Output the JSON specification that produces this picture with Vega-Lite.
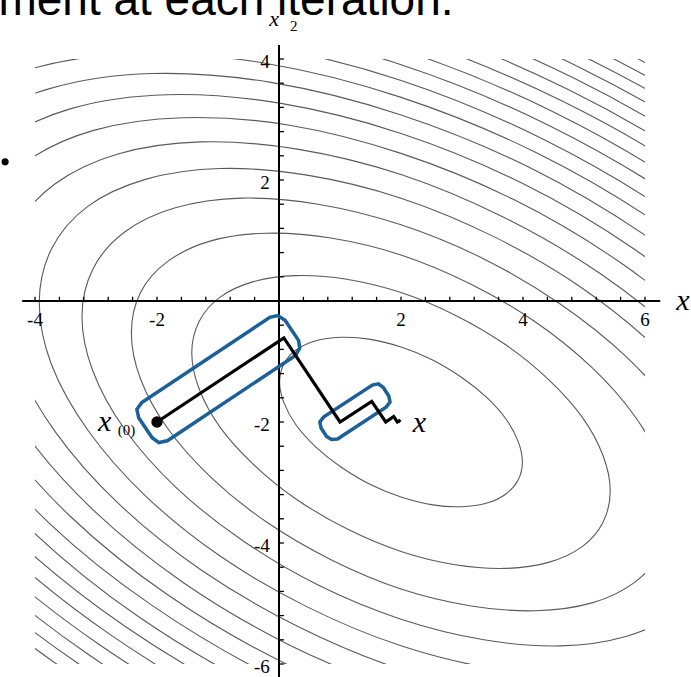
{
"$schema": "https://vega.github.io/schema/vega-lite/v6.json",
"width": 610, "height": 605, "autosize": "none",
"padding": {"left": 35, "top": 59, "right": 46, "bottom": 13},
"background": "white",
"config": {"view": {"stroke": null}, "axis": {"disable": true}},
"datasets": {
"contours": [
{"c":0,"i":0,"x":3.92,"y":-2.96},{"c":0,"i":1,"x":3.99,"y":-2.66},{"c":0,"i":2,"x":3.92,"y":-2.32},{"c":0,"i":3,"x":3.72,"y":-1.95},{"c":0,"i":4,"x":3.40,"y":-1.59},{"c":0,"i":5,"x":2.99,"y":-1.26},{"c":0,"i":6,"x":2.51,"y":-0.97},{"c":0,"i":7,"x":2.00,"y":-0.76},{"c":0,"i":8,"x":1.48,"y":-0.63},{"c":0,"i":9,"x":1.01,"y":-0.60},{"c":0,"i":10,"x":0.59,"y":-0.66},{"c":0,"i":11,"x":0.28,"y":-0.81},{"c":0,"i":12,"x":0.08,"y":-1.04},{"c":0,"i":13,"x":0.01,"y":-1.34},{"c":0,"i":14,"x":0.08,"y":-1.68},{"c":0,"i":15,"x":0.28,"y":-2.05},{"c":0,"i":16,"x":0.60,"y":-2.41},{"c":0,"i":17,"x":1.01,"y":-2.74},{"c":0,"i":18,"x":1.49,"y":-3.03},{"c":0,"i":19,"x":2.00,"y":-3.24},{"c":0,"i":20,"x":2.52,"y":-3.37},{"c":0,"i":21,"x":2.99,"y":-3.40},{"c":0,"i":22,"x":3.41,"y":-3.34},{"c":0,"i":23,"x":3.72,"y":-3.19},
{"c":1,"i":0,"x":5.31,"y":-3.66},{"c":1,"i":1,"x":5.43,"y":-3.14},{"c":1,"i":2,"x":5.31,"y":-2.55},{"c":1,"i":3,"x":4.97,"y":-1.92},{"c":1,"i":4,"x":4.42,"y":-1.30},{"c":1,"i":5,"x":3.71,"y":-0.72},{"c":1,"i":6,"x":2.88,"y":-0.23},{"c":1,"i":7,"x":2.00,"y":0.14},{"c":1,"i":8,"x":1.11,"y":0.36},{"c":1,"i":9,"x":0.28,"y":0.42},{"c":1,"i":10,"x":-0.42,"y":0.32},{"c":1,"i":11,"x":-0.97,"y":0.06},{"c":1,"i":12,"x":-1.31,"y":-0.34},{"c":1,"i":13,"x":-1.43,"y":-0.86},{"c":1,"i":14,"x":-1.31,"y":-1.45},{"c":1,"i":15,"x":-0.97,"y":-2.08},{"c":1,"i":16,"x":-0.42,"y":-2.70},{"c":1,"i":17,"x":0.29,"y":-3.28},{"c":1,"i":18,"x":1.12,"y":-3.77},{"c":1,"i":19,"x":2.00,"y":-4.14},{"c":1,"i":20,"x":2.89,"y":-4.36},{"c":1,"i":21,"x":3.72,"y":-4.42},{"c":1,"i":22,"x":4.42,"y":-4.32},{"c":1,"i":23,"x":4.97,"y":-4.06},
{"c":2,"i":0,"x":6.27,"y":-4.14},{"c":2,"i":1,"x":6.42,"y":-3.47},{"c":2,"i":2,"x":6.27,"y":-2.71},{"c":2,"i":3,"x":5.83,"y":-1.90},{"c":2,"i":4,"x":5.12,"y":-1.09},{"c":2,"i":5,"x":4.21,"y":-0.35},{"c":2,"i":6,"x":3.14,"y":0.28},{"c":2,"i":7,"x":2.00,"y":0.76},{"c":2,"i":8,"x":0.85,"y":1.04},{"c":2,"i":9,"x":-0.21,"y":1.12},{"c":2,"i":10,"x":-1.13,"y":0.99},{"c":2,"i":11,"x":-1.83,"y":0.65},{"c":2,"i":12,"x":-2.27,"y":0.14},{"c":2,"i":13,"x":-2.42,"y":-0.53},{"c":2,"i":14,"x":-2.27,"y":-1.29},{"c":2,"i":15,"x":-1.83,"y":-2.10},{"c":2,"i":16,"x":-1.12,"y":-2.91},{"c":2,"i":17,"x":-0.21,"y":-3.65},{"c":2,"i":18,"x":0.86,"y":-4.28},{"c":2,"i":19,"x":2.00,"y":-4.76},{"c":2,"i":20,"x":3.15,"y":-5.04},{"c":2,"i":21,"x":4.21,"y":-5.12},{"c":2,"i":22,"x":5.13,"y":-4.99},{"c":2,"i":23,"x":5.83,"y":-4.65},
{"c":3,"i":0,"x":7.05,"y":-4.53},{"c":3,"i":1,"x":7.23,"y":-3.74},{"c":3,"i":2,"x":7.05,"y":-2.84},{"c":3,"i":3,"x":6.53,"y":-1.88},{"c":3,"i":4,"x":5.69,"y":-0.92},{"c":3,"i":5,"x":4.61,"y":-0.05},{"c":3,"i":6,"x":3.35,"y":0.70},{"c":3,"i":7,"x":2.00,"y":1.26},{"c":3,"i":8,"x":0.64,"y":1.60},{"c":3,"i":9,"x":-0.62,"y":1.70},{"c":3,"i":10,"x":-1.70,"y":1.54},{"c":3,"i":11,"x":-2.53,"y":1.14},{"c":3,"i":12,"x":-3.05,"y":0.53},{"c":3,"i":13,"x":-3.23,"y":-0.26},{"c":3,"i":14,"x":-3.05,"y":-1.16},{"c":3,"i":15,"x":-2.53,"y":-2.12},{"c":3,"i":16,"x":-1.69,"y":-3.08},{"c":3,"i":17,"x":-0.61,"y":-3.95},{"c":3,"i":18,"x":0.65,"y":-4.70},{"c":3,"i":19,"x":2.00,"y":-5.26},{"c":3,"i":20,"x":3.36,"y":-5.60},{"c":3,"i":21,"x":4.62,"y":-5.70},{"c":3,"i":22,"x":5.70,"y":-5.54},{"c":3,"i":23,"x":6.53,"y":-5.14},
{"c":4,"i":0,"x":7.73,"y":-4.86},{"c":4,"i":1,"x":7.93,"y":-3.97},{"c":4,"i":2,"x":7.73,"y":-2.95},{"c":4,"i":3,"x":7.13,"y":-1.86},{"c":4,"i":4,"x":6.19,"y":-0.78},{"c":4,"i":5,"x":4.96,"y":0.22},{"c":4,"i":6,"x":3.53,"y":1.06},{"c":4,"i":7,"x":2.00,"y":1.70},{"c":4,"i":8,"x":0.46,"y":2.08},{"c":4,"i":9,"x":-0.97,"y":2.19},{"c":4,"i":10,"x":-2.19,"y":2.01},{"c":4,"i":11,"x":-3.14,"y":1.56},{"c":4,"i":12,"x":-3.73,"y":0.86},{"c":4,"i":13,"x":-3.93,"y":-0.03},{"c":4,"i":14,"x":-3.73,"y":-1.05},{"c":4,"i":15,"x":-3.13,"y":-2.14},{"c":4,"i":16,"x":-2.19,"y":-3.22},{"c":4,"i":17,"x":-0.96,"y":-4.22},{"c":4,"i":18,"x":0.47,"y":-5.06},{"c":4,"i":19,"x":2.00,"y":-5.70},{"c":4,"i":20,"x":3.54,"y":-6.08},{"c":4,"i":21,"x":4.97,"y":-6.19},{"c":4,"i":22,"x":6.19,"y":-6.01},{"c":4,"i":23,"x":7.14,"y":-5.56},
{"c":5,"i":0,"x":8.33,"y":-5.17},{"c":5,"i":1,"x":8.55,"y":-4.18},{"c":5,"i":2,"x":8.33,"y":-3.05},{"c":5,"i":3,"x":7.67,"y":-1.85},{"c":5,"i":4,"x":6.63,"y":-0.65},{"c":5,"i":5,"x":5.27,"y":0.45},{"c":5,"i":6,"x":3.69,"y":1.38},{"c":5,"i":7,"x":2.00,"y":2.09},{"c":5,"i":8,"x":0.30,"y":2.51},{"c":5,"i":9,"x":-1.28,"y":2.63},{"c":5,"i":10,"x":-2.64,"y":2.43},{"c":5,"i":11,"x":-3.68,"y":1.93},{"c":5,"i":12,"x":-4.33,"y":1.17},{"c":5,"i":13,"x":-4.55,"y":0.18},{"c":5,"i":14,"x":-4.33,"y":-0.95},{"c":5,"i":15,"x":-3.67,"y":-2.16},{"c":5,"i":16,"x":-2.63,"y":-3.35},{"c":5,"i":17,"x":-1.27,"y":-4.45},{"c":5,"i":18,"x":0.31,"y":-5.38},{"c":5,"i":19,"x":2.00,"y":-6.09},{"c":5,"i":20,"x":3.70,"y":-6.51},{"c":5,"i":21,"x":5.28,"y":-6.63},{"c":5,"i":22,"x":6.64,"y":-6.43},{"c":5,"i":23,"x":7.68,"y":-5.93},
{"c":6,"i":0,"x":8.88,"y":-5.44},{"c":6,"i":1,"x":9.12,"y":-4.37},{"c":6,"i":2,"x":8.88,"y":-3.14},{"c":6,"i":3,"x":8.17,"y":-1.83},{"c":6,"i":4,"x":7.03,"y":-0.53},{"c":6,"i":5,"x":5.56,"y":0.66},{"c":6,"i":6,"x":3.84,"y":1.68},{"c":6,"i":7,"x":2.00,"y":2.44},{"c":6,"i":8,"x":0.15,"y":2.91},{"c":6,"i":9,"x":-1.57,"y":3.03},{"c":6,"i":10,"x":-3.04,"y":2.82},{"c":6,"i":11,"x":-4.17,"y":2.28},{"c":6,"i":12,"x":-4.88,"y":1.44},{"c":6,"i":13,"x":-5.12,"y":0.37},{"c":6,"i":14,"x":-4.88,"y":-0.86},{"c":6,"i":15,"x":-4.17,"y":-2.17},{"c":6,"i":16,"x":-3.03,"y":-3.47},{"c":6,"i":17,"x":-1.56,"y":-4.66},{"c":6,"i":18,"x":0.16,"y":-5.68},{"c":6,"i":19,"x":2.00,"y":-6.44},{"c":6,"i":20,"x":3.85,"y":-6.91},{"c":6,"i":21,"x":5.57,"y":-7.03},{"c":6,"i":22,"x":7.04,"y":-6.82},{"c":6,"i":23,"x":8.17,"y":-6.28},
{"c":7,"i":0,"x":9.39,"y":-5.70},{"c":7,"i":1,"x":9.65,"y":-4.55},{"c":7,"i":2,"x":9.39,"y":-3.22},{"c":7,"i":3,"x":8.62,"y":-1.82},{"c":7,"i":4,"x":7.41,"y":-0.43},{"c":7,"i":5,"x":5.82,"y":0.86},{"c":7,"i":6,"x":3.98,"y":1.95},{"c":7,"i":7,"x":2.00,"y":2.77},{"c":7,"i":8,"x":0.01,"y":3.27},{"c":7,"i":9,"x":-1.83,"y":3.41},{"c":7,"i":10,"x":-3.41,"y":3.18},{"c":7,"i":11,"x":-4.63,"y":2.59},{"c":7,"i":12,"x":-5.39,"y":1.70},{"c":7,"i":13,"x":-5.65,"y":0.55},{"c":7,"i":14,"x":-5.39,"y":-0.78},{"c":7,"i":15,"x":-4.62,"y":-2.18},{"c":7,"i":16,"x":-3.41,"y":-3.57},{"c":7,"i":17,"x":-1.82,"y":-4.86},{"c":7,"i":18,"x":0.02,"y":-5.95},{"c":7,"i":19,"x":2.00,"y":-6.77},{"c":7,"i":20,"x":3.99,"y":-7.27},{"c":7,"i":21,"x":5.83,"y":-7.41},{"c":7,"i":22,"x":7.41,"y":-7.18},{"c":7,"i":23,"x":8.63,"y":-6.59},
{"c":8,"i":0,"x":9.87,"y":-5.93},{"c":8,"i":1,"x":10.14,"y":-4.71},{"c":8,"i":2,"x":9.87,"y":-3.30},{"c":8,"i":3,"x":9.05,"y":-1.81},{"c":8,"i":4,"x":7.76,"y":-0.32},{"c":8,"i":5,"x":6.07,"y":1.04},{"c":8,"i":6,"x":4.10,"y":2.21},{"c":8,"i":7,"x":1.99,"y":3.08},{"c":8,"i":8,"x":-0.11,"y":3.61},{"c":8,"i":9,"x":-2.08,"y":3.76},{"c":8,"i":10,"x":-3.76,"y":3.51},{"c":8,"i":11,"x":-5.06,"y":2.89},{"c":8,"i":12,"x":-5.87,"y":1.93},{"c":8,"i":13,"x":-6.14,"y":0.71},{"c":8,"i":14,"x":-5.87,"y":-0.70},{"c":8,"i":15,"x":-5.05,"y":-2.19},{"c":8,"i":16,"x":-3.76,"y":-3.68},{"c":8,"i":17,"x":-2.07,"y":-5.04},{"c":8,"i":18,"x":-0.10,"y":-6.21},{"c":8,"i":19,"x":2.01,"y":-7.08},{"c":8,"i":20,"x":4.11,"y":-7.61},{"c":8,"i":21,"x":6.08,"y":-7.76},{"c":8,"i":22,"x":7.76,"y":-7.51},{"c":8,"i":23,"x":9.06,"y":-6.89},
{"c":9,"i":0,"x":10.32,"y":-6.16},{"c":9,"i":1,"x":10.61,"y":-4.87},{"c":9,"i":2,"x":10.32,"y":-3.38},{"c":9,"i":3,"x":9.45,"y":-1.80},{"c":9,"i":4,"x":8.08,"y":-0.23},{"c":9,"i":5,"x":6.30,"y":1.22},{"c":9,"i":6,"x":4.22,"y":2.45},{"c":9,"i":7,"x":1.99,"y":3.37},{"c":9,"i":8,"x":-0.23,"y":3.93},{"c":9,"i":9,"x":-2.31,"y":4.09},{"c":9,"i":10,"x":-4.09,"y":3.83},{"c":9,"i":11,"x":-5.46,"y":3.17},{"c":9,"i":12,"x":-6.32,"y":2.16},{"c":9,"i":13,"x":-6.61,"y":0.87},{"c":9,"i":14,"x":-6.32,"y":-0.62},{"c":9,"i":15,"x":-5.45,"y":-2.20},{"c":9,"i":16,"x":-4.08,"y":-3.77},{"c":9,"i":17,"x":-2.30,"y":-5.22},{"c":9,"i":18,"x":-0.22,"y":-6.45},{"c":9,"i":19,"x":2.01,"y":-7.37},{"c":9,"i":20,"x":4.23,"y":-7.93},{"c":9,"i":21,"x":6.31,"y":-8.09},{"c":9,"i":22,"x":8.09,"y":-7.83},{"c":9,"i":23,"x":9.46,"y":-7.17},
{"c":10,"i":0,"x":10.75,"y":-6.37},{"c":10,"i":1,"x":11.05,"y":-5.01},{"c":10,"i":2,"x":10.74,"y":-3.45},{"c":10,"i":3,"x":9.84,"y":-1.79},{"c":10,"i":4,"x":8.40,"y":-0.14},{"c":10,"i":5,"x":6.52,"y":1.38},{"c":10,"i":6,"x":4.34,"y":2.67},{"c":10,"i":7,"x":1.99,"y":3.65},{"c":10,"i":8,"x":-0.35,"y":4.23},{"c":10,"i":9,"x":-2.53,"y":4.40},{"c":10,"i":10,"x":-4.41,"y":4.12},{"c":10,"i":11,"x":-5.84,"y":3.43},{"c":10,"i":12,"x":-6.75,"y":2.37},{"c":10,"i":13,"x":-7.05,"y":1.01},{"c":10,"i":14,"x":-6.74,"y":-0.55},{"c":10,"i":15,"x":-5.84,"y":-2.21},{"c":10,"i":16,"x":-4.40,"y":-3.86},{"c":10,"i":17,"x":-2.52,"y":-5.38},{"c":10,"i":18,"x":-0.34,"y":-6.67},{"c":10,"i":19,"x":2.01,"y":-7.65},{"c":10,"i":20,"x":4.35,"y":-8.23},{"c":10,"i":21,"x":6.53,"y":-8.40},{"c":10,"i":22,"x":8.41,"y":-8.12},{"c":10,"i":23,"x":9.84,"y":-7.43},
{"c":11,"i":0,"x":11.15,"y":-6.58},{"c":11,"i":1,"x":11.47,"y":-5.15},{"c":11,"i":2,"x":11.15,"y":-3.52},{"c":11,"i":3,"x":10.20,"y":-1.78},{"c":11,"i":4,"x":8.69,"y":-0.05},{"c":11,"i":5,"x":6.73,"y":1.54},{"c":11,"i":6,"x":4.45,"y":2.89},{"c":11,"i":7,"x":1.99,"y":3.91},{"c":11,"i":8,"x":-0.46,"y":4.52},{"c":11,"i":9,"x":-2.74,"y":4.70},{"c":11,"i":10,"x":-4.70,"y":4.41},{"c":11,"i":11,"x":-6.21,"y":3.69},{"c":11,"i":12,"x":-7.15,"y":2.58},{"c":11,"i":13,"x":-7.47,"y":1.15},{"c":11,"i":14,"x":-7.15,"y":-0.48},{"c":11,"i":15,"x":-6.20,"y":-2.22},{"c":11,"i":16,"x":-4.69,"y":-3.95},{"c":11,"i":17,"x":-2.73,"y":-5.54},{"c":11,"i":18,"x":-0.45,"y":-6.89},{"c":11,"i":19,"x":2.01,"y":-7.91},{"c":11,"i":20,"x":4.46,"y":-8.52},{"c":11,"i":21,"x":6.74,"y":-8.70},{"c":11,"i":22,"x":8.70,"y":-8.41},{"c":11,"i":23,"x":10.21,"y":-7.69},
{"c":12,"i":0,"x":11.54,"y":-6.77},{"c":12,"i":1,"x":11.88,"y":-5.29},{"c":12,"i":2,"x":11.54,"y":-3.58},{"c":12,"i":3,"x":10.55,"y":-1.77},{"c":12,"i":4,"x":8.98,"y":0.03},{"c":12,"i":5,"x":6.93,"y":1.69},{"c":12,"i":6,"x":4.55,"y":3.10},{"c":12,"i":7,"x":1.99,"y":4.16},{"c":12,"i":8,"x":-0.56,"y":4.80},{"c":12,"i":9,"x":-2.94,"y":4.98},{"c":12,"i":10,"x":-4.99,"y":4.68},{"c":12,"i":11,"x":-6.56,"y":3.93},{"c":12,"i":12,"x":-7.54,"y":2.77},{"c":12,"i":13,"x":-7.88,"y":1.29},{"c":12,"i":14,"x":-7.54,"y":-0.42},{"c":12,"i":15,"x":-6.55,"y":-2.23},{"c":12,"i":16,"x":-4.98,"y":-4.03},{"c":12,"i":17,"x":-2.93,"y":-5.69},{"c":12,"i":18,"x":-0.55,"y":-7.10},{"c":12,"i":19,"x":2.01,"y":-8.16},{"c":12,"i":20,"x":4.56,"y":-8.80},{"c":12,"i":21,"x":6.94,"y":-8.98},{"c":12,"i":22,"x":8.99,"y":-8.68},{"c":12,"i":23,"x":10.56,"y":-7.93},
{"c":13,"i":0,"x":11.92,"y":-6.96},{"c":13,"i":1,"x":12.26,"y":-5.42},{"c":13,"i":2,"x":11.91,"y":-3.64},{"c":13,"i":3,"x":10.88,"y":-1.76},{"c":13,"i":4,"x":9.25,"y":0.11},{"c":13,"i":5,"x":7.13,"y":1.84},{"c":13,"i":6,"x":4.65,"y":3.30},{"c":13,"i":7,"x":1.99,"y":4.40},{"c":13,"i":8,"x":-0.66,"y":5.07},{"c":13,"i":9,"x":-3.14,"y":5.25},{"c":13,"i":10,"x":-5.26,"y":4.94},{"c":13,"i":11,"x":-6.89,"y":4.16},{"c":13,"i":12,"x":-7.92,"y":2.96},{"c":13,"i":13,"x":-8.26,"y":1.42},{"c":13,"i":14,"x":-7.91,"y":-0.36},{"c":13,"i":15,"x":-6.88,"y":-2.24},{"c":13,"i":16,"x":-5.25,"y":-4.11},{"c":13,"i":17,"x":-3.13,"y":-5.84},{"c":13,"i":18,"x":-0.65,"y":-7.30},{"c":13,"i":19,"x":2.01,"y":-8.40},{"c":13,"i":20,"x":4.66,"y":-9.07},{"c":13,"i":21,"x":7.14,"y":-9.25},{"c":13,"i":22,"x":9.26,"y":-8.94},{"c":13,"i":23,"x":10.89,"y":-8.16},
{"c":14,"i":0,"x":12.28,"y":-7.14},{"c":14,"i":1,"x":12.64,"y":-5.54},{"c":14,"i":2,"x":12.27,"y":-3.70},{"c":14,"i":3,"x":11.21,"y":-1.75},{"c":14,"i":4,"x":9.52,"y":0.19},{"c":14,"i":5,"x":7.31,"y":1.98},{"c":14,"i":6,"x":4.75,"y":3.49},{"c":14,"i":7,"x":1.99,"y":4.64},{"c":14,"i":8,"x":-0.76,"y":5.33},{"c":14,"i":9,"x":-3.32,"y":5.52},{"c":14,"i":10,"x":-5.53,"y":5.20},{"c":14,"i":11,"x":-7.21,"y":4.38},{"c":14,"i":12,"x":-8.28,"y":3.14},{"c":14,"i":13,"x":-8.64,"y":1.54},{"c":14,"i":14,"x":-8.27,"y":-0.30},{"c":14,"i":15,"x":-7.21,"y":-2.25},{"c":14,"i":16,"x":-5.52,"y":-4.19},{"c":14,"i":17,"x":-3.31,"y":-5.98},{"c":14,"i":18,"x":-0.75,"y":-7.49},{"c":14,"i":19,"x":2.01,"y":-8.64},{"c":14,"i":20,"x":4.76,"y":-9.33},{"c":14,"i":21,"x":7.32,"y":-9.52},{"c":14,"i":22,"x":9.53,"y":-9.20},{"c":14,"i":23,"x":11.21,"y":-8.38},
{"c":15,"i":0,"x":12.62,"y":-7.31},{"c":15,"i":1,"x":13.00,"y":-5.66},{"c":15,"i":2,"x":12.62,"y":-3.76},{"c":15,"i":3,"x":11.52,"y":-1.74},{"c":15,"i":4,"x":9.77,"y":0.26},{"c":15,"i":5,"x":7.49,"y":2.11},{"c":15,"i":6,"x":4.84,"y":3.68},{"c":15,"i":7,"x":1.99,"y":4.86},{"c":15,"i":8,"x":-0.85,"y":5.57},{"c":15,"i":9,"x":-3.50,"y":5.77},{"c":15,"i":10,"x":-5.78,"y":5.44},{"c":15,"i":11,"x":-7.53,"y":4.60},{"c":15,"i":12,"x":-8.62,"y":3.31},{"c":15,"i":13,"x":-9.00,"y":1.66},{"c":15,"i":14,"x":-8.62,"y":-0.24},{"c":15,"i":15,"x":-7.52,"y":-2.26},{"c":15,"i":16,"x":-5.77,"y":-4.26},{"c":15,"i":17,"x":-3.49,"y":-6.11},{"c":15,"i":18,"x":-0.84,"y":-7.68},{"c":15,"i":19,"x":2.01,"y":-8.86},{"c":15,"i":20,"x":4.85,"y":-9.57},{"c":15,"i":21,"x":7.50,"y":-9.77},{"c":15,"i":22,"x":9.78,"y":-9.44},{"c":15,"i":23,"x":11.53,"y":-8.60},
{"c":16,"i":0,"x":12.96,"y":-7.48},{"c":16,"i":1,"x":13.35,"y":-5.78},{"c":16,"i":2,"x":12.96,"y":-3.82},{"c":16,"i":3,"x":11.82,"y":-1.73},{"c":16,"i":4,"x":10.02,"y":0.33},{"c":16,"i":5,"x":7.67,"y":2.24},{"c":16,"i":6,"x":4.93,"y":3.86},{"c":16,"i":7,"x":1.99,"y":5.08},{"c":16,"i":8,"x":-0.94,"y":5.81},{"c":16,"i":9,"x":-3.68,"y":6.02},{"c":16,"i":10,"x":-6.03,"y":5.68},{"c":16,"i":11,"x":-7.83,"y":4.81},{"c":16,"i":12,"x":-8.96,"y":3.48},{"c":16,"i":13,"x":-9.35,"y":1.78},{"c":16,"i":14,"x":-8.96,"y":-0.18},{"c":16,"i":15,"x":-7.82,"y":-2.27},{"c":16,"i":16,"x":-6.02,"y":-4.33},{"c":16,"i":17,"x":-3.67,"y":-6.24},{"c":16,"i":18,"x":-0.93,"y":-7.86},{"c":16,"i":19,"x":2.01,"y":-9.08},{"c":16,"i":20,"x":4.94,"y":-9.81},{"c":16,"i":21,"x":7.68,"y":-10.02},{"c":16,"i":22,"x":10.03,"y":-9.68},{"c":16,"i":23,"x":11.83,"y":-8.81},
{"c":17,"i":0,"x":13.29,"y":-7.64},{"c":17,"i":1,"x":13.68,"y":-5.89},{"c":17,"i":2,"x":13.28,"y":-3.87},{"c":17,"i":3,"x":12.11,"y":-1.72},{"c":17,"i":4,"x":10.26,"y":0.40},{"c":17,"i":5,"x":7.84,"y":2.37},{"c":17,"i":6,"x":5.02,"y":4.03},{"c":17,"i":7,"x":1.99,"y":5.29},{"c":17,"i":8,"x":-1.03,"y":6.05},{"c":17,"i":9,"x":-3.85,"y":6.26},{"c":17,"i":10,"x":-6.27,"y":5.91},{"c":17,"i":11,"x":-8.12,"y":5.01},{"c":17,"i":12,"x":-9.29,"y":3.64},{"c":17,"i":13,"x":-9.68,"y":1.89},{"c":17,"i":14,"x":-9.28,"y":-0.13},{"c":17,"i":15,"x":-8.11,"y":-2.28},{"c":17,"i":16,"x":-6.26,"y":-4.40},{"c":17,"i":17,"x":-3.84,"y":-6.37},{"c":17,"i":18,"x":-1.02,"y":-8.03},{"c":17,"i":19,"x":2.01,"y":-9.29},{"c":17,"i":20,"x":5.03,"y":-10.05},{"c":17,"i":21,"x":7.85,"y":-10.26},{"c":17,"i":22,"x":10.27,"y":-9.91},{"c":17,"i":23,"x":12.12,"y":-9.01},
{"c":18,"i":0,"x":13.61,"y":-7.80},{"c":18,"i":1,"x":14.01,"y":-6.00},{"c":18,"i":2,"x":13.60,"y":-3.92},{"c":18,"i":3,"x":12.40,"y":-1.72},{"c":18,"i":4,"x":10.49,"y":0.47},{"c":18,"i":5,"x":8.00,"y":2.49},{"c":18,"i":6,"x":5.10,"y":4.20},{"c":18,"i":7,"x":1.99,"y":5.49},{"c":18,"i":8,"x":-1.12,"y":6.27},{"c":18,"i":9,"x":-4.01,"y":6.49},{"c":18,"i":10,"x":-6.50,"y":6.13},{"c":18,"i":11,"x":-8.41,"y":5.21},{"c":18,"i":12,"x":-9.61,"y":3.80},{"c":18,"i":13,"x":-10.01,"y":2.00},{"c":18,"i":14,"x":-9.60,"y":-0.08},{"c":18,"i":15,"x":-8.40,"y":-2.28},{"c":18,"i":16,"x":-6.49,"y":-4.47},{"c":18,"i":17,"x":-4.00,"y":-6.49},{"c":18,"i":18,"x":-1.10,"y":-8.20},{"c":18,"i":19,"x":2.01,"y":-9.49},{"c":18,"i":20,"x":5.12,"y":-10.27},{"c":18,"i":21,"x":8.01,"y":-10.49},{"c":18,"i":22,"x":10.50,"y":-10.13},{"c":18,"i":23,"x":12.41,"y":-9.21},
{"c":19,"i":0,"x":13.92,"y":-7.96},{"c":19,"i":1,"x":14.33,"y":-6.11},{"c":19,"i":2,"x":13.91,"y":-3.97},{"c":19,"i":3,"x":12.68,"y":-1.71},{"c":19,"i":4,"x":10.72,"y":0.54},{"c":19,"i":5,"x":8.16,"y":2.61},{"c":19,"i":6,"x":5.18,"y":4.37},{"c":19,"i":7,"x":1.99,"y":5.69},{"c":19,"i":8,"x":-1.20,"y":6.49},{"c":19,"i":9,"x":-4.17,"y":6.72},{"c":19,"i":10,"x":-6.73,"y":6.35},{"c":19,"i":11,"x":-8.69,"y":5.40},{"c":19,"i":12,"x":-9.92,"y":3.95},{"c":19,"i":13,"x":-10.33,"y":2.11},{"c":19,"i":14,"x":-9.91,"y":-0.03},{"c":19,"i":15,"x":-8.68,"y":-2.29},{"c":19,"i":16,"x":-6.73,"y":-4.54},{"c":19,"i":17,"x":-4.16,"y":-6.61},{"c":19,"i":18,"x":-1.18,"y":-8.37},{"c":19,"i":19,"x":2.01,"y":-9.69},{"c":19,"i":20,"x":5.20,"y":-10.49},{"c":19,"i":21,"x":8.17,"y":-10.72},{"c":19,"i":22,"x":10.73,"y":-10.35},{"c":19,"i":23,"x":12.69,"y":-9.40}
],
"axes": [{"x":-4.21,"x2":6.25,"y":0,"y2":0},{"x":0,"x2":0,"y":-6.3,"y2":4.23}],
"xticks": [{"v":-4},{"v":-3.6},{"v":-3.2},{"v":-2.8},{"v":-2.4},{"v":-2},{"v":-1.6},{"v":-1.2},{"v":-0.8},{"v":-0.4},{"v":0.4},{"v":0.8},{"v":1.2},{"v":1.6},{"v":2},{"v":2.4},{"v":2.8},{"v":3.2},{"v":3.6},{"v":4},{"v":4.4},{"v":4.8},{"v":5.2},{"v":5.6},{"v":6}],
"yticks": [{"v":-6},{"v":-5.6},{"v":-5.2},{"v":-4.8},{"v":-4.4},{"v":-4},{"v":-3.6},{"v":-3.2},{"v":-2.8},{"v":-2.4},{"v":-2},{"v":-1.6},{"v":-1.2},{"v":-0.8},{"v":-0.4},{"v":0.4},{"v":0.8},{"v":1.2},{"v":1.6},{"v":2},{"v":2.4},{"v":2.8},{"v":3.2},{"v":3.6},{"v":4}],
"xlabels": [{"v":-4,"t":"-4"},{"v":-2,"t":"-2"},{"v":2,"t":"2"},{"v":4,"t":"4"},{"v":6,"t":"6"}],
"ylabels": [{"v":4,"t":"4"},{"v":2,"t":"2"},{"v":-2,"t":"-2"},{"v":-4,"t":"-4"},{"v":-6,"t":"-6"}],
"boxes": [
{"b":1,"i":0,"x":0.32,"y":-0.65},{"b":1,"i":1,"x":0.34,"y":-0.78},{"b":1,"i":2,"x":0.27,"y":-0.90},{"b":1,"i":3,"x":-1.83,"y":-2.31},{"b":1,"i":4,"x":-1.97,"y":-2.34},{"b":1,"i":5,"x":-2.08,"y":-2.26},{"b":1,"i":6,"x":-2.30,"y":-1.93},{"b":1,"i":7,"x":-2.33,"y":-1.79},{"b":1,"i":8,"x":-2.25,"y":-1.68},{"b":1,"i":9,"x":-0.15,"y":-0.27},{"b":1,"i":10,"x":-0.02,"y":-0.24},{"b":1,"i":11,"x":0.10,"y":-0.32},
{"b":2,"i":0,"x":1.80,"y":-1.57},{"b":2,"i":1,"x":1.82,"y":-1.67},{"b":2,"i":2,"x":1.76,"y":-1.75},{"b":2,"i":3,"x":0.96,"y":-2.28},{"b":2,"i":4,"x":0.86,"y":-2.29},{"b":2,"i":5,"x":0.78,"y":-2.24},{"b":2,"i":6,"x":0.69,"y":-2.10},{"b":2,"i":7,"x":0.67,"y":-2.00},{"b":2,"i":8,"x":0.73,"y":-1.92},{"b":2,"i":9,"x":1.53,"y":-1.39},{"b":2,"i":10,"x":1.63,"y":-1.37},{"b":2,"i":11,"x":1.71,"y":-1.43}
],
"path": [{"i":0,"x":-2,"y":-2},{"i":1,"x":0.08,"y":-0.61},{"i":2,"x":1.0,"y":-2.0},{"i":3,"x":1.52,"y":-1.66},{"i":4,"x":1.75,"y":-2.0},{"i":5,"x":1.88,"y":-1.91},{"i":6,"x":1.94,"y":-2.0},{"i":7,"x":1.97,"y":-1.98},{"i":8,"x":1.99,"y":-2.0}]
},
"layer": [
{"data": {"name": "contours"},
 "mark": {"type": "line", "clip": true, "interpolate": "cardinal-closed", "stroke": "#5a5a5a", "strokeWidth": 1.1},
 "encoding": {
  "x": {"field": "x", "type": "quantitative", "scale": {"domain": [-4, 6], "nice": false, "zero": false}, "axis": null},
  "y": {"field": "y", "type": "quantitative", "scale": {"domain": [-6, 4], "nice": false, "zero": false}, "axis": null},
  "detail": {"field": "c", "type": "nominal"},
  "order": {"field": "i", "type": "quantitative"}}},
{"data": {"name": "axes"},
 "mark": {"type": "rule", "color": "black", "strokeWidth": 2},
 "encoding": {"x": {"field": "x", "type": "quantitative"}, "x2": {"field": "x2"}, "y": {"field": "y", "type": "quantitative"}, "y2": {"field": "y2"}}},
{"data": {"name": "xticks"},
 "mark": {"type": "rule", "color": "black", "strokeWidth": 1.3},
 "encoding": {"x": {"field": "v", "type": "quantitative"}, "y": {"datum": 0, "type": "quantitative"}, "y2": {"datum": 0.07}}},
{"data": {"name": "yticks"},
 "mark": {"type": "rule", "color": "black", "strokeWidth": 1.3},
 "encoding": {"y": {"field": "v", "type": "quantitative"}, "x": {"datum": 0, "type": "quantitative"}, "x2": {"datum": 0.08}}},
{"data": {"name": "xlabels"},
 "mark": {"type": "text", "font": "Liberation Serif", "fontSize": 19, "align": "center", "baseline": "middle", "color": "black"},
 "encoding": {"x": {"field": "v", "type": "quantitative"}, "y": {"datum": -0.31, "type": "quantitative"}, "text": {"field": "t"}}},
{"data": {"name": "ylabels"},
 "mark": {"type": "text", "font": "Liberation Serif", "fontSize": 19, "align": "right", "baseline": "middle", "dy": 3, "color": "black"},
 "encoding": {"y": {"field": "v", "type": "quantitative"}, "x": {"datum": -0.15, "type": "quantitative"}, "text": {"field": "t"}}},
{"data": {"name": "boxes"},
 "mark": {"type": "line", "interpolate": "linear-closed", "stroke": "#1b6099", "strokeWidth": 3.5},
 "encoding": {"x": {"field": "x", "type": "quantitative"}, "y": {"field": "y", "type": "quantitative"}, "detail": {"field": "b", "type": "nominal"}, "order": {"field": "i", "type": "quantitative"}}},
{"data": {"name": "path"},
 "mark": {"type": "line", "stroke": "black", "strokeWidth": 3.2, "strokeJoin": "miter"},
 "encoding": {"x": {"field": "x", "type": "quantitative"}, "y": {"field": "y", "type": "quantitative"}, "order": {"field": "i", "type": "quantitative"}}},
{"data": {"values": [{"x": -2, "y": -2}]},
 "mark": {"type": "point", "filled": true, "color": "black", "size": 130, "opacity": 1},
 "encoding": {"x": {"field": "x", "type": "quantitative"}, "y": {"field": "y", "type": "quantitative"}}},
{"data": {"values": [{"x": -4.49, "y": 2.3}]},
 "mark": {"type": "point", "filled": true, "color": "black", "size": 50, "opacity": 1},
 "encoding": {"x": {"field": "x", "type": "quantitative"}, "y": {"field": "y", "type": "quantitative"}}},
{"data": {"values": [{"x": 6.62, "y": 0.0, "t": "x"}, {"x": -2.86, "y": -2.0, "t": "x"}, {"x": 2.30, "y": -2.02, "t": "x"}]},
 "mark": {"type": "text", "font": "Liberation Serif", "fontStyle": "italic", "fontSize": 30, "align": "center", "baseline": "middle", "color": "black"},
 "encoding": {"x": {"field": "x", "type": "quantitative"}, "y": {"field": "y", "type": "quantitative"}, "text": {"field": "t"}}},
{"data": {"values": [{"x": -0.08, "y": 4.66, "t": "x"}]},
 "mark": {"type": "text", "font": "Liberation Serif", "fontStyle": "italic", "fontSize": 22, "align": "center", "baseline": "middle", "color": "black"},
 "encoding": {"x": {"field": "x", "type": "quantitative"}, "y": {"field": "y", "type": "quantitative"}, "text": {"field": "t"}}},
{"data": {"values": [{"x": 0.24, "y": 4.54, "t": "2"}, {"x": -2.5, "y": -2.13, "t": "(0)"}]},
 "mark": {"type": "text", "font": "Liberation Serif", "fontSize": 15, "align": "center", "baseline": "middle", "color": "black"},
 "encoding": {"x": {"field": "x", "type": "quantitative"}, "y": {"field": "y", "type": "quantitative"}, "text": {"field": "t"}}},
{"data": {"values": [{"x": -4.6, "y": 4.72, "t": "ment at each iteration."}]},
 "mark": {"type": "text", "font": "Liberation Sans", "fontSize": 46, "align": "left", "baseline": "alphabetic", "color": "black"},
 "encoding": {"x": {"field": "x", "type": "quantitative"}, "y": {"field": "y", "type": "quantitative"}, "text": {"field": "t"}}}
]
}
